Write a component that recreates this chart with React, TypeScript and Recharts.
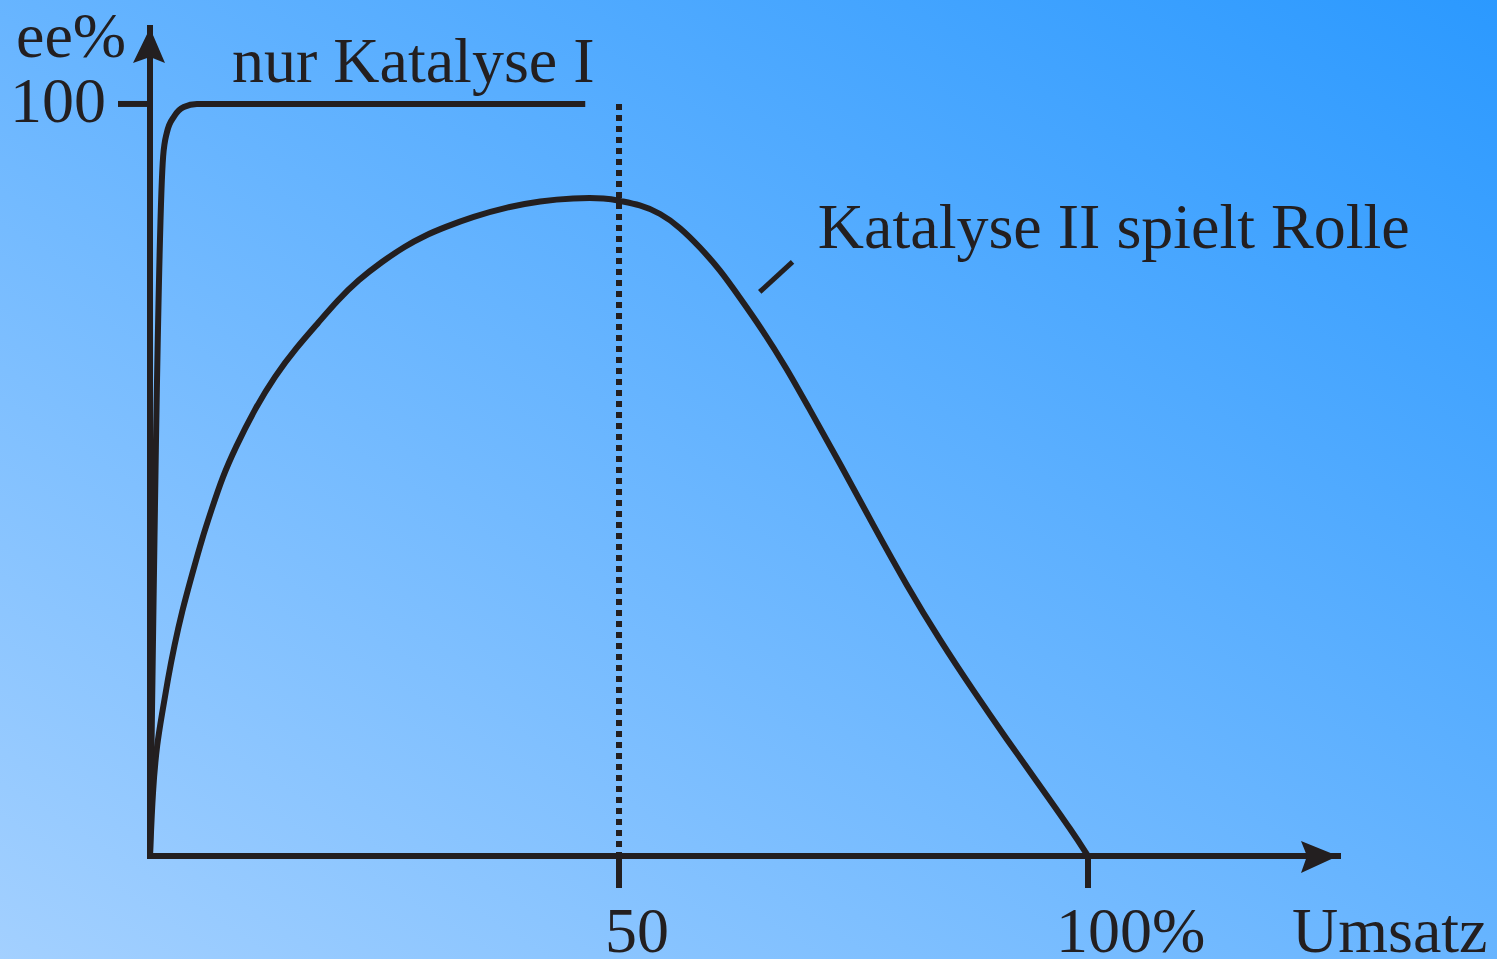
import React from "react";
import { LineChart, Line, XAxis, YAxis, ReferenceLine, ReferenceDot } from "recharts";

// ee% over Umsatz
const katalyseI = [
  { x: 0, ee: 0 },
  { x: 1.4, ee: 93 },
  { x: 1.8, ee: 96.2 },
  { x: 2.6, ee: 98.4 },
  { x: 3.6, ee: 99.6 },
  { x: 5, ee: 100 },
  { x: 46.4, ee: 100 },
];

const katalyseII = [
  { x: 0, ee: 0 },
  { x: 0.3, ee: 9 },
  { x: 0.75, ee: 15 },
  { x: 1.3, ee: 19 },
  { x: 1.9, ee: 23.5 },
  { x: 2.6, ee: 28 },
  { x: 3.4, ee: 32.5 },
  { x: 4.5, ee: 37.5 },
  { x: 5.5, ee: 42 },
  { x: 6.6, ee: 46.2 },
  { x: 7.7, ee: 50.3 },
  { x: 9.1, ee: 54.3 },
  { x: 11.2, ee: 59.5 },
  { x: 13.3, ee: 63.8 },
  { x: 15.6, ee: 67.6 },
  { x: 18, ee: 71 },
  { x: 20, ee: 73.9 },
  { x: 22.2, ee: 76.6 },
  { x: 24.7, ee: 79 },
  { x: 27.2, ee: 81.1 },
  { x: 29.3, ee: 82.5 },
  { x: 31.4, ee: 83.6 },
  { x: 34.4, ee: 85 },
  { x: 38.1, ee: 86.3 },
  { x: 41.6, ee: 87.1 },
  { x: 45.1, ee: 87.5 },
  { x: 48.7, ee: 87.5 },
  { x: 50.1, ee: 87.1 },
  { x: 52.2, ee: 86.6 },
  { x: 54.4, ee: 85.5 },
  { x: 56.5, ee: 83.6 },
  { x: 58.6, ee: 81 },
  { x: 60.8, ee: 77.9 },
  { x: 62.9, ee: 74.2 },
  { x: 65, ee: 70.5 },
  { x: 67.9, ee: 64.8 },
  { x: 70, ee: 60.1 },
  { x: 73.6, ee: 52.1 },
  { x: 77.1, ee: 44 },
  { x: 80.7, ee: 35.9 },
  { x: 84.2, ee: 28.7 },
  { x: 87.7, ee: 22.1 },
  { x: 91.4, ee: 15.4 },
  { x: 94.9, ee: 9.3 },
  { x: 98.4, ee: 3.1 },
  { x: 100, ee: 0 },
];

const xTicks = [50, 100];
const xTickLabels = ["50", "100%"];
const yTicks = [100];
const yTickLabels = ["100"];

const X_MAX = 126.65;
const Y_MAX = 110.1;
const INK = "#231f20";
const W = 6;
const FONT = "'Liberation Serif', 'Times New Roman', serif";

const textStyle = { fontFamily: FONT, fontSize: 64, fill: INK };

const XTick = (props: any) => {
  const { x, y, payload } = props;
  const i = xTicks.indexOf(payload.value);
  const dx = i === 0 ? -14 : -32;
  return (
    <text x={x + dx} y={y + 62} textAnchor="start" {...textStyle}>
      {xTickLabels[i]}
    </text>
  );
};

const YTick = (props: any) => {
  const { x, y, payload } = props;
  const i = yTicks.indexOf(payload.value);
  return (
    <text x={x} y={y + 18} textAnchor="end" {...textStyle}>
      {yTickLabels[i]}
    </text>
  );
};

const umsatzLabel = (p: any) => {
  const vb = p.viewBox;
  return (
    <text x={vb.x + vb.width - 46} y={vb.y + 96} {...textStyle}>
      Umsatz
    </text>
  );
};

const eeLabel = (p: any) => {
  const vb = p.viewBox;
  return (
    <text x={vb.x - 94} y={vb.y + 29} {...textStyle}>
      ee%
    </text>
  );
};

const xArrow = (p: any) => (
  <path
    d={`M${p.cx},${p.cy} L${p.cx - 37},${p.cy - 15} L${p.cx - 31},${p.cy} L${p.cx - 37},${p.cy + 17} Z`}
    fill={INK}
  />
);

const yArrow = (p: any) => (
  <path
    d={`M${p.cx},${p.cy} L${p.cx + 15},${p.cy + 35} L${p.cx},${p.cy + 29} L${p.cx - 17},${p.cy + 35} Z`}
    fill={INK}
  />
);

const note = (label: string) => (p: any) => (
  <text x={p.cx} y={p.cy} {...textStyle}>
    {label}
  </text>
);

export default function App() {
  return (
    <div
      style={{
        position: "absolute",
        left: 0,
        top: 0,
        width: 1497,
        height: 959,
        background: "linear-gradient(to top right, #a3d0ff, #2b99ff)",
      }}
    >
      <LineChart
        width={1497}
        height={959}
        margin={{ top: 28, right: 159, bottom: 63, left: 110 }}
      >
        <XAxis
          type="number"
          dataKey="x"
          domain={[0, X_MAX]}
          ticks={xTicks}
          height={40}
          tickSize={32}
          tickLine={{ stroke: INK, strokeWidth: W }}
          axisLine={{ stroke: INK, strokeWidth: W, strokeLinecap: "square" }}
          tick={XTick}
          label={umsatzLabel}
          allowDataOverflow
        />
        <YAxis
          type="number"
          dataKey="ee"
          domain={[0, Y_MAX]}
          ticks={yTicks}
          width={40}
          tickSize={32}
          tickMargin={12}
          tickLine={{ stroke: INK, strokeWidth: W }}
          axisLine={{ stroke: INK, strokeWidth: W, strokeLinecap: "square" }}
          tick={YTick}
          label={eeLabel}
          allowDataOverflow
        />
        <ReferenceLine
          segment={[{ x: 50, y: 100 }, { x: 50, y: 0 }]}
          stroke={INK}
          strokeWidth={W}
          strokeDasharray="6 5"
        />
        <ReferenceLine
          segment={[{ x: 65, y: 75 }, { x: 68.5, y: 79 }]}
          stroke={INK}
          strokeWidth={5}
        />
        <Line
          data={katalyseI}
          dataKey="ee"
          type="monotone"
          stroke={INK}
          strokeWidth={W}
          strokeLinejoin="round"
          dot={false}
          isAnimationActive={false}
        />
        <Line
          data={katalyseII}
          dataKey="ee"
          type="basis"
          stroke={INK}
          strokeWidth={W}
          strokeLinejoin="round"
          dot={false}
          isAnimationActive={false}
        />
        <ReferenceDot x={X_MAX} y={0} r={0} shape={xArrow} />
        <ReferenceDot x={0} y={Y_MAX} r={0} shape={yArrow} />
        <ReferenceDot x={8.74} y={102.93} r={0} shape={note("nur Katalyse I")} />
        <ReferenceDot x={71.2} y={80.85} r={0} shape={note("Katalyse II spielt Rolle")} />
      </LineChart>
    </div>
  );
}
